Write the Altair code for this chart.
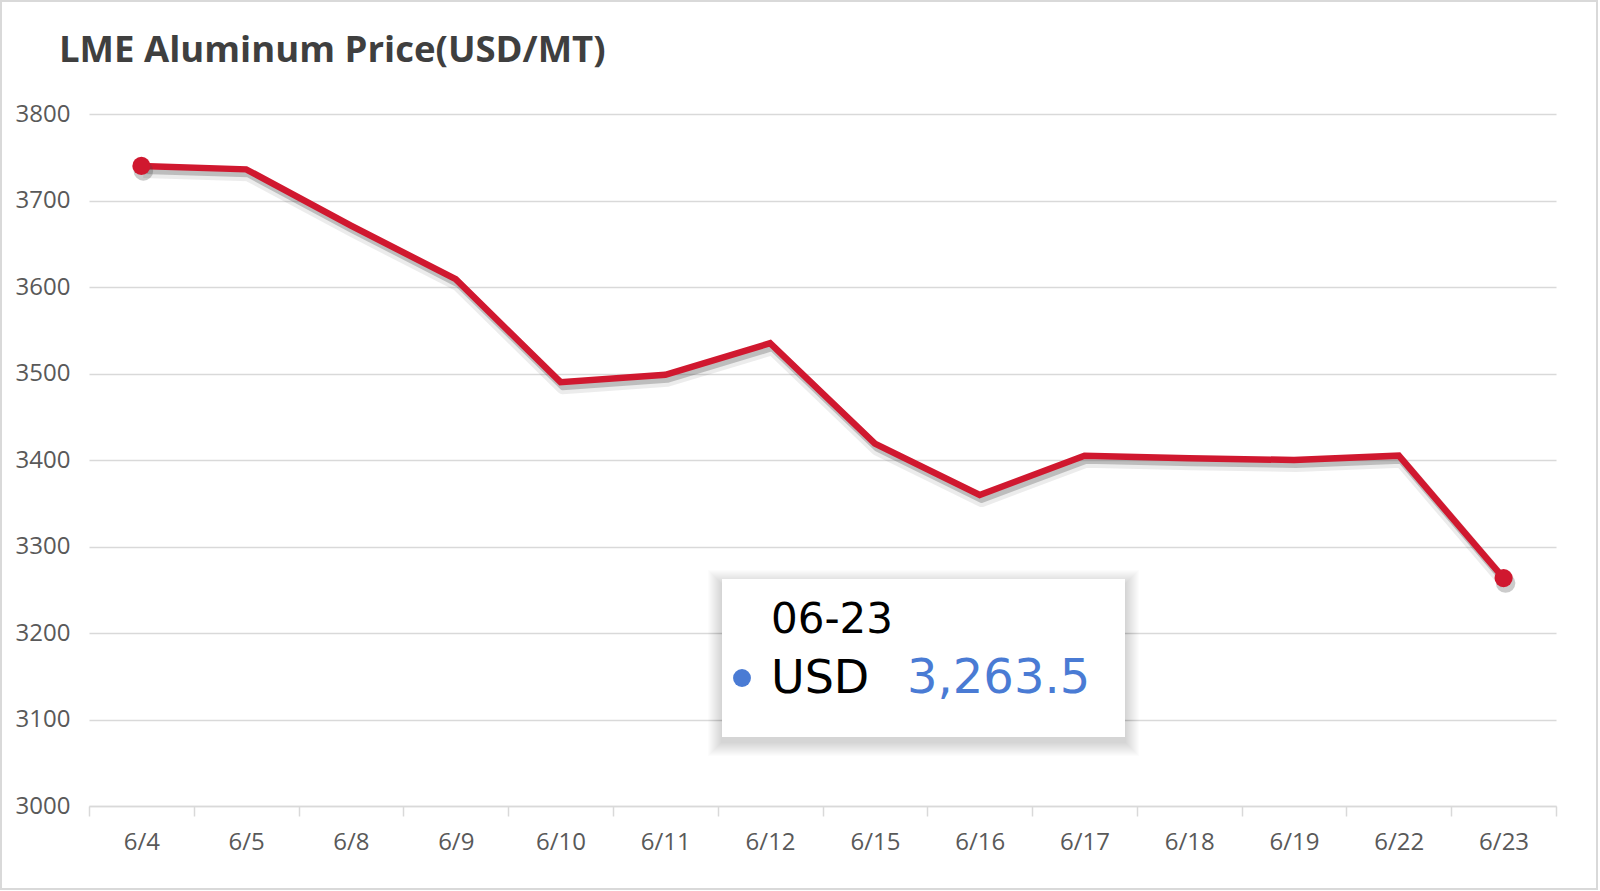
import altair as alt
import pandas as pd

# ---- data ----
dates = ["6/4", "6/5", "6/8", "6/9", "6/10", "6/11", "6/12", "6/15",
         "6/16", "6/17", "6/18", "6/19", "6/22", "6/23"]
prices = [3740, 3736, 3671, 3609, 3490, 3498.5, 3535, 3419,
          3359.5, 3405, 3402, 3400, 3405, 3263.5]
y_ticks = [3000, 3100, 3200, 3300, 3400, 3500, 3600, 3700, 3800]
title_text = "LME Aluminum Price(USD/MT)"
series_name = "USD"

df = pd.DataFrame({"date": dates, "price": prices})
ends = df.iloc[[0, len(df) - 1]]

RED = "#d0182f"
BLUE = "#4a7bd4"
GRID = "#d9d9d9"
LABEL = "#595959"

W, H = 1467, 692

xenc = alt.X("date:N", sort=dates, bandPosition=0.5,
             scale=alt.Scale(type="band", paddingInner=0, paddingOuter=0),
             axis=alt.Axis(title=None, labelAngle=0, tickBand="extent",
                           tickSize=10, tickColor=GRID, tickWidth=1.5,
                           domainColor=GRID, domainWidth=1.5, grid=False,
                           labelFont="Open Sans", labelFontSize=24,
                           labelColor=LABEL, labelPadding=14))
yenc = alt.Y("price:Q", scale=alt.Scale(domain=[3000, 3800], nice=False, zero=False),
             axis=alt.Axis(title=None, values=y_ticks, format="d", grid=True, gridColor=GRID,
                           gridWidth=1.5, domain=False, ticks=False,
                           labelFont="Open Sans", labelFontSize=24,
                           labelColor=LABEL, labelPadding=19))

base = alt.Chart(df)
one = pd.DataFrame({"k": [0]})

frame = alt.Chart(one).mark_rect(
    fillOpacity=0, stroke=GRID, strokeWidth=2, clip=False
).encode(x=alt.value(-88), x2=alt.value(1508), y=alt.value(-113), y2=alt.value(775))

title = alt.Chart(pd.DataFrame({"t": [title_text]})).mark_text(
    font="Open Sans", fontSize=36.5, fontWeight="bold", color="#3f3f3f",
    align="left", baseline="alphabetic", clip=False
).encode(x=alt.value(-30), y=alt.value(-52), text="t:N")

shadow1 = base.mark_line(color="#444444", opacity=0.10, strokeWidth=12,
                         xOffset=2, yOffset=6, strokeJoin="round").encode(x=xenc, y=yenc)
shadow2 = base.mark_line(color="#444444", opacity=0.28, strokeWidth=6,
                         xOffset=2, yOffset=5, strokeJoin="round").encode(x=xenc, y=yenc)
line = base.mark_line(color=RED, strokeWidth=6.5, strokeJoin="miter").encode(x=xenc, y=yenc)

pt_shadow = alt.Chart(ends).mark_circle(color="#444444", opacity=0.28, size=380,
                                        xOffset=2, yOffset=5).encode(x=xenc, y=yenc)
pts = alt.Chart(ends).mark_circle(color=RED, opacity=1, size=330).encode(x=xenc, y=yenc)

# ---- tooltip overlay ----
last_date = dates[-1]
m, d = last_date.split("/")
tip_date = f"{int(m):02d}-{int(d):02d}"
tip_val = f"{prices[-1]:,.1f}"

bx1, bx2, by1, by2 = 633, 1036, 465, 623
tip_layers = []
for e in range(14, 0, -1):
    tip_layers.append(
        alt.Chart(one).mark_rect(fill="#000000", opacity=0.013, clip=False)
        .encode(x=alt.value(bx1 - e), x2=alt.value(bx2 + e),
                y=alt.value(by1 - e + 5), y2=alt.value(by2 + e + 5)))
tip_layers.append(
    alt.Chart(one).mark_rect(fill="white", clip=False)
    .encode(x=alt.value(bx1), x2=alt.value(bx2), y=alt.value(by1), y2=alt.value(by2)))
tip_df = pd.DataFrame({"t": [tip_date], "s": [series_name], "v": [tip_val]})
tip_layers.append(alt.Chart(tip_df).mark_text(font="DejaVu Sans", fontSize=42, color="#000000",
                                              align="left", baseline="alphabetic")
                  .encode(x=alt.value(682), y=alt.value(519), text="t:N"))
tip_layers.append(alt.Chart(tip_df).mark_text(font="DejaVu Sans", fontSize=46, color="#000000",
                                              align="left", baseline="alphabetic")
                  .encode(x=alt.value(682), y=alt.value(579), text="s:N"))
tip_layers.append(alt.Chart(tip_df).mark_text(font="DejaVu Sans", fontSize=48, color=BLUE,
                                              align="left", baseline="alphabetic")
                  .encode(x=alt.value(818), y=alt.value(579), text="v:N"))
tip_layers.append(alt.Chart(tip_df).mark_circle(color=BLUE, opacity=1, size=320)
                  .encode(x=alt.value(653), y=alt.value(564)))

chart = alt.layer(frame, title, shadow1, shadow2, line, pt_shadow, pts, *tip_layers).properties(
    width=W, height=H,
    autosize=alt.AutoSizeParams(type="none"),
    padding={"left": 89, "top": 114, "right": 44, "bottom": 85},
).configure(background="white", view=alt.ViewConfig(stroke=None))

chart.save("out.html", embed_options={"renderer": "svg", "actions": False})
